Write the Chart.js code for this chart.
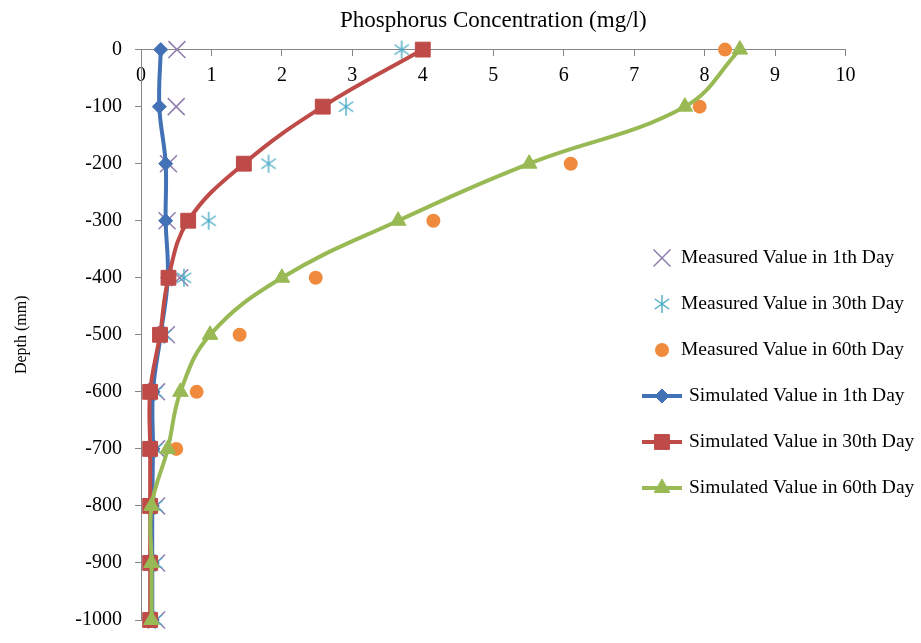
<!DOCTYPE html>
<html>
<head>
<meta charset="utf-8">
<script src="https://cdn.jsdelivr.net/npm/chart.js@4.4.1/dist/chart.umd.min.js"></script>
<style>
  html, body { margin: 0; padding: 0; background: #fff; }
</style>
</head>
<body>
<canvas id="myChart" width="921" height="643"></canvas>
<script>

// depth (mm) for every row
const depths = [0, -100, -200, -300, -400, -500, -600, -700, -800, -900, -1000];

// phosphorus concentration (mg/l)
const measured1  = [0.51, 0.50, 0.39, 0.37, 0.55, 0.36, 0.22, 0.22, 0.22, 0.22, 0.22];
const measured30 = [3.70, 2.91, 1.81, 0.96, 0.61, 0.33, 0.20, 0.20, 0.20, 0.20, 0.20];
const measured60 = [8.29, 7.93, 6.10, 4.15, 2.48, 1.40, 0.79, 0.50, 0.14, 0.14, 0.14];
const simulated1  = [0.28, 0.26, 0.35, 0.35, 0.38, 0.28, 0.17, 0.17, 0.16, 0.16, 0.16];
const simulated30 = [4.00, 2.58, 1.46, 0.67, 0.39, 0.27, 0.13, 0.13, 0.13, 0.13, 0.13];
const simulated60 = [8.50, 7.72, 5.51, 3.65, 2.00, 0.98, 0.56, 0.38, 0.15, 0.15, 0.15];

const seriesNames = [
  'Measured Value in 1th Day',
  'Measured Value in 30th Day',
  'Measured Value in 60th Day',
  'Simulated Value in 1th Day',
  'Simulated Value in 30th Day',
  'Simulated Value in 60th Day'
];

const xTitle = 'Phosphorus Concentration (mg/l)';
const yTitle = 'Depth (mm)';

const serif = "'Liberation Serif', 'Times New Roman', serif";

function pts(vals) {
  return depths.map((d, i) => ({ x: vals[i], y: d }));
}

// excel style asterisk: vertical bar plus an X
function asterisk(color, r) {
  const cv = document.createElement('canvas');
  cv.width = cv.height = 2 * r + 2;
  const g = cv.getContext('2d');
  const m = r + 1;
  const d = r * 0.8;
  g.strokeStyle = color;
  g.lineWidth = 1.4;
  g.beginPath();
  g.moveTo(m, m - r); g.lineTo(m, m + r);
  g.moveTo(m - d, m - d * 0.7); g.lineTo(m + d, m + d * 0.7);
  g.moveTo(m - d, m + d * 0.7); g.lineTo(m + d, m - d * 0.7);
  g.stroke();
  return cv;
}

function measured(label, vals, color, style, radius, order) {
  return {
    label: label,
    data: pts(vals),
    showLine: false,
    pointStyle: style,
    pointRadius: radius,
    pointHoverRadius: radius,
    pointBorderWidth: style === 'circle' ? 0 : 1.5,
    pointBackgroundColor: color,
    pointBorderColor: color,
    borderColor: color,
    backgroundColor: color,
    clip: false,
    order: order
  };
}

function simulated(label, vals, color, style, radius, order) {
  return {
    label: label,
    data: pts(vals),
    showLine: true,
    tension: 0.4,
    borderWidth: 4,
    borderColor: color,
    backgroundColor: color,
    pointStyle: style,
    pointRadius: radius,
    pointHoverRadius: radius,
    pointBorderWidth: 1,
    pointBackgroundColor: color,
    pointBorderColor: color,
    clip: false,
    order: order
  };
}

const datasets = [
  measured(seriesNames[0], measured1, '#8F7DAE', 'crossRot', 12, 6),
  measured(seriesNames[1], measured30, '#4BACC6', asterisk('#4BACC6', 9), 9, 5),
  measured(seriesNames[2], measured60, '#F08A3C', 'circle', 7, 4),
  simulated(seriesNames[3], simulated1, '#4272B5', 'rectRot', 7, 3),
  simulated(seriesNames[4], simulated30, '#BE4B48', 'rect', 10.5, 2),
  simulated(seriesNames[5], simulated60, '#98B954', 'triangle', 9, 1)
];

// legend drawn over the plot on the right, like the original
const legendBox = {
  id: 'legendBox',
  afterDraw(chart) {
    const c = chart.ctx;
    c.save();
    chart.data.datasets.forEach((ds, row) => {
      const y = 258 + row * 46;
      c.fillStyle = ds.pointBackgroundColor;
      c.strokeStyle = ds.pointBorderColor;
      if (ds.showLine) {
        c.lineWidth = ds.borderWidth;
        c.beginPath();
        c.moveTo(642, y);
        c.lineTo(682, y);
        c.stroke();
      }
      c.lineWidth = ds.pointBorderWidth;
      Chart.helpers.drawPoint(c, {
        pointStyle: ds.pointStyle,
        radius: ds.pointRadius,
        rotation: 0,
        borderWidth: ds.pointBorderWidth
      }, 662, y);
      c.fillStyle = '#000';
      c.font = '19.5px ' + serif;
      c.textBaseline = 'middle';
      c.textAlign = 'left';
      c.fillText(ds.label, ds.showLine ? 689 : 681, y);
    });
    c.restore();
  }
};

let ctx = document.getElementById('myChart');

const myChart = new Chart(ctx, {
  type: 'scatter',
  data: { datasets: datasets },
  plugins: [legendBox],
  options: {
    responsive: false,
    animation: false,
    layout: { padding: { left: 0, right: 75.5, top: 0, bottom: 10 } },
    plugins: {
      legend: { display: false },
      tooltip: { enabled: false }
    },
    scales: {
      x: {
        type: 'linear',
        position: { y: 0 },
        min: 0,
        max: 10,
        ticks: {
          stepSize: 1,
          color: '#000',
          padding: 10,
          callback: v => String(v),
          font: { family: serif, size: 20, lineHeight: 1 }
        },
        grid: {
          display: true,
          drawOnChartArea: false,
          drawTicks: true,
          tickLength: 6,
          color: '#868686'
        },
        border: { display: true, color: '#868686', width: 1 }
      },
      xTitle: {
        type: 'linear',
        position: 'top',
        min: 0,
        max: 10,
        ticks: { display: false },
        grid: { display: false, drawTicks: false },
        border: { display: false },
        title: {
          display: true,
          text: xTitle,
          color: '#000',
          font: { family: serif, size: 23 },
          padding: { top: 7, bottom: 15 }
        }
      },
      y: {
        type: 'linear',
        position: 'left',
        min: -1000,
        max: 0,
        afterFit(scale) { scale.width = 141; },
        ticks: {
          stepSize: 100,
          color: '#000',
          padding: 13,
          callback: v => String(v),
          font: { family: serif, size: 20, lineHeight: 1 }
        },
        grid: {
          display: true,
          drawOnChartArea: false,
          drawTicks: true,
          tickLength: 6,
          color: '#868686'
        },
        border: { display: true, color: '#868686', width: 1 },
        title: {
          display: true,
          text: yTitle,
          color: '#000',
          font: { family: serif, size: 16 },
          padding: { top: 12, bottom: 4 }
        }
      }
    }
  }
});
</script>
</body>
</html>
